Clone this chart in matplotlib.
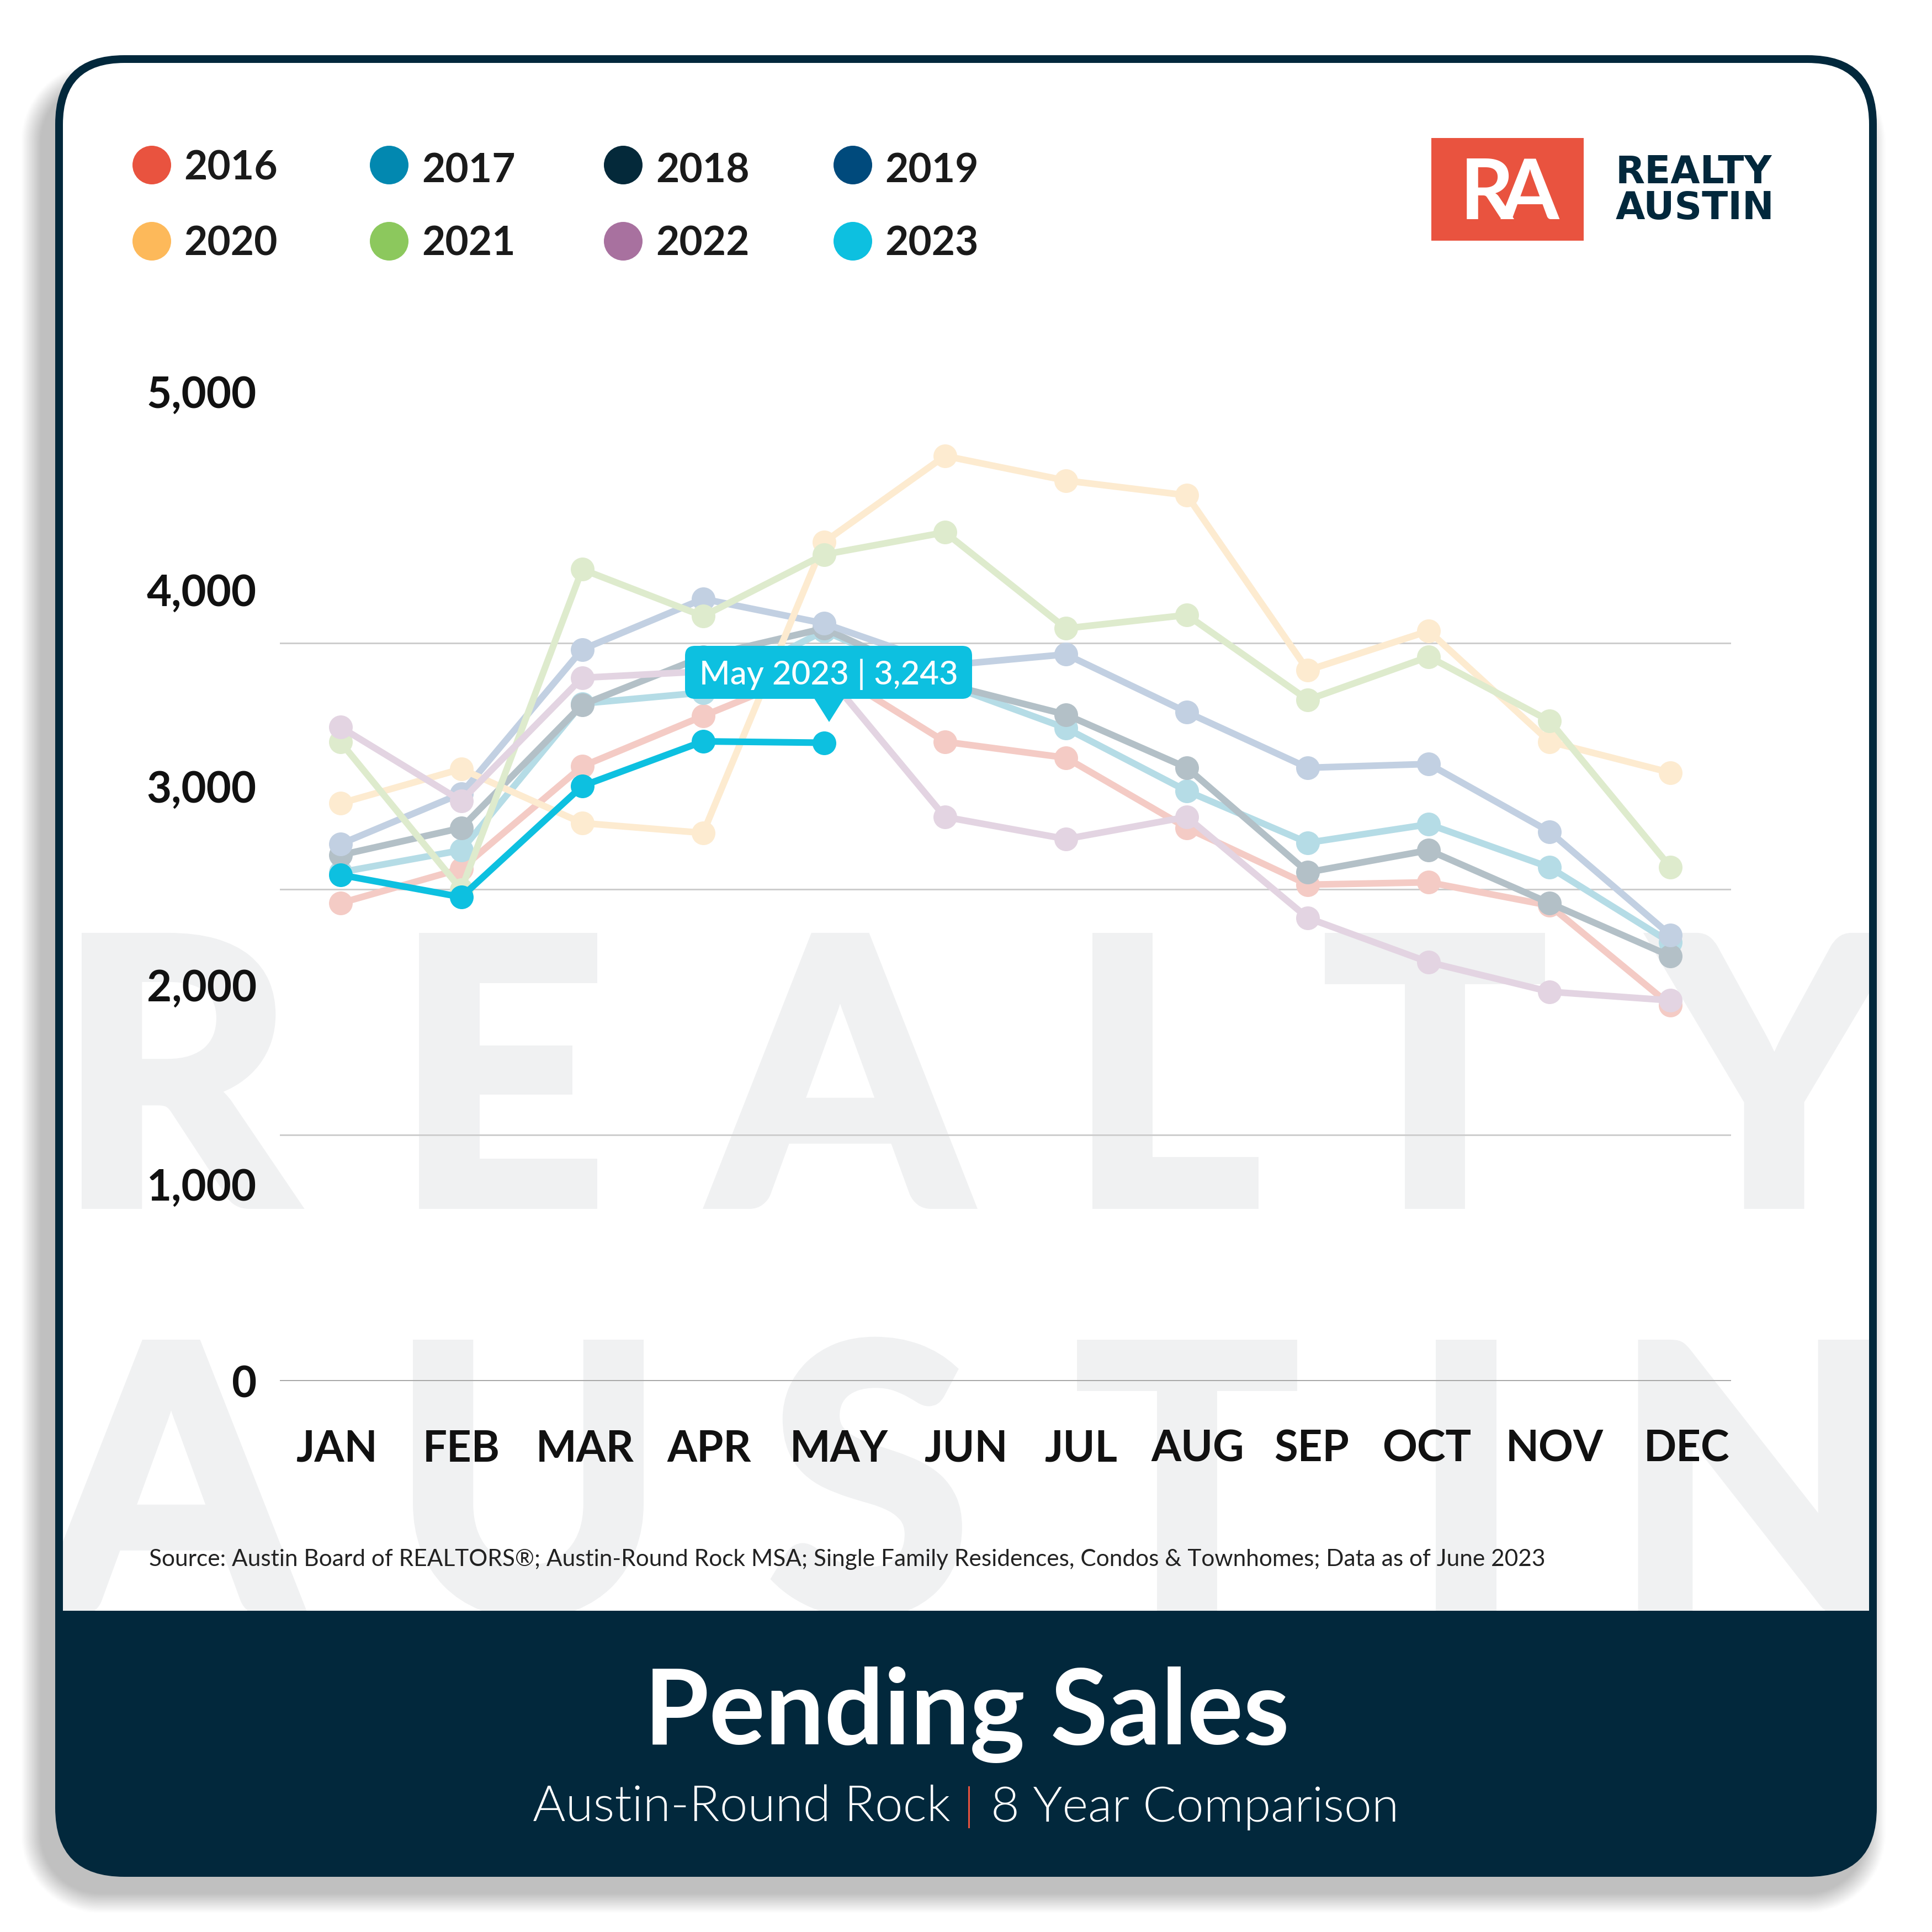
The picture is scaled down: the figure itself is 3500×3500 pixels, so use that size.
import numpy as np
import matplotlib
matplotlib.use("Agg")
import matplotlib.pyplot as plt
import matplotlib.patheffects as pe
from matplotlib.patches import FancyBboxPatch, Rectangle, Polygon, Circle
from matplotlib.transforms import Bbox, TransformedBbox, ScaledTranslation

MONTHS = ["JAN","FEB","MAR","APR","MAY","JUN","JUL","AUG","SEP","OCT","NOV","DEC"]
YEARS = ["2016","2017","2018","2019","2020","2021","2022","2023"]
V2016 = [2428,2603,3123,3379,3630,3248,3167,2810,2522,2534,2416,1909]
V2017 = [2585,2697,3442,3498,3811,3542,3317,2998,2735,2829,2610,2228]
V2018 = [2672,2810,3436,3680,3824,3542,3386,3116,2585,2697,2428,2159]
V2019 = [2728,2985,3717,3974,3849,3636,3692,3398,3116,3135,2791,2265]
V2020 = [2935,3110,2835,2785,4262,4700,4575,4500,3611,3811,3248,3091]
V2021 = [3248,2497,4124,3886,4199,4312,3824,3892,3461,3680,3354,2610]
V2022 = [3323,2948,3573,3605,3605,2866,2754,2866,2353,2128,1978,1934]
V2023 = [2572,2459,3023,3250,3243]
SERIES = [V2016,V2017,V2018,V2019,V2020,V2021,V2022,V2023]
LEGEND_COLORS = ["#E9533F","#0288B0","#04293A","#004A7C","#FDB95A","#8CC85D","#A8719F","#0DC0E0"]
LINE_COLORS = ["#F4CBC5","#B5DCE6","#B3C0C7","#C2D0E2","#FDEBD0","#DEEBCD","#E3D4E2","#0DC0E0"]
Y_TICKS = [0,1000,2000,3000,4000,5000]
Y_LABELS = ["0","1,000","2,000","3,000","4,000","5,000"]
GRID_STEPS = [1250,2500,3750,5000]
TOOLTIP = "May 2023 | 3,243"
SOURCE = "Source: Austin Board of REALTORS®; Austin-Round Rock MSA; Single Family Residences, Condos & Townhomes; Data as of June 2023"

NAVY = "#02283C"
RED = "#E9533F"
WM = "#F0F1F2"
FONT = "Lato"
PX = 72/350   # points per pixel at this dpi

fig = plt.figure(figsize=(10,10), dpi=350, facecolor="white")
bg = fig.add_axes([0,0,1,1], zorder=0)

# soft drop shadow
n = 875
yy, xx = np.mgrid[0:n,0:n]*4.0
x0,x1,y0,y1,r = 54,3396,130,3446,125
qx = np.abs(xx-(x0+x1)/2)-((x1-x0)/2-r)
qy = np.abs(yy-(y0+y1)/2)-((y1-y0)/2-r)
sdf = np.hypot(np.maximum(qx,0),np.maximum(qy,0))+np.minimum(np.maximum(qx,qy),0)-r
alpha = np.clip((18-sdf)/36,0,1)*0.25
rgba = np.zeros((n,n,4)); rgba[...,3]=alpha
bg.imshow(rgba, extent=(0,3500,3500,0), aspect="auto", interpolation="bilinear", zorder=0)
bg.set_xlim(0,3500); bg.set_ylim(3500,0); bg.axis("off")

bg.add_patch(FancyBboxPatch((100,100),3300,3300,boxstyle="round,pad=0,rounding_size=125",fc=NAVY,ec="none",zorder=1))
bg.add_patch(FancyBboxPatch((114,114),3272,3000,boxstyle="round,pad=0,rounding_size=111",fc="white",ec="none",zorder=2))

# background wordmark (thickened to the reference's heavy weight)
clip = TransformedBbox(Bbox([[114,114],[3386,2918]]), bg.transData)
heavy = [pe.withStroke(linewidth=20*PX, foreground=WM, joinstyle="miter")]
for ch,cx in zip("REALTY",[318,907,1522,2108,2599,3214]):
    t = bg.text(cx,2180,ch,fontsize=664*PX,family=FONT,weight="bold",color=WM,ha="center",va="baseline",zorder=3,path_effects=heavy)
    t.set_clip_box(clip); t.set_clip_on(True)
for ch,cx in zip("AUSTIN",[310,957,1575,2150,2656,3180]):
    t = bg.text(cx,2917,ch,fontsize=664*PX,family=FONT,weight="bold",color=WM,ha="center",va="baseline",zorder=3,path_effects=heavy)
    t.set_clip_box(clip); t.set_clip_on(True)

bg.add_patch(Rectangle((100,2918),3300,250,fc=NAVY,ec="none",zorder=4))

# footer text
bg.text(1751,3160,"Pending Sales",fontsize=190*PX,family=FONT,weight="bold",color="white",ha="center",va="baseline",zorder=5)
bg.text(965,3300,"Austin-Round Rock",fontsize=91*PX,family=FONT,weight=300,color="white",ha="left",va="baseline",zorder=5)
bg.text(1755,3298,"|",fontsize=80*PX,family=FONT,weight=300,color=RED,ha="center",va="baseline",zorder=5)
bg.text(1795,3300,"8 Year Comparison",fontsize=89.5*PX,family=FONT,weight=300,color="white",ha="left",va="baseline",zorder=5)
bg.text(270,2825,SOURCE,fontsize=42.4*PX,family=FONT,color="#222222",ha="left",va="center",zorder=5)

# logo
bg.add_patch(Rectangle((2593,250),276,186,fc=RED,ec="none",zorder=5))
bg.text(2645,397,"R",fontsize=152*PX,family=FONT,weight="bold",color="white",ha="left",va="baseline",zorder=6)
bg.text(2824,397,"A",fontsize=152*PX,family=FONT,weight="bold",color="white",ha="right",va="baseline",zorder=6)
bg.text(2927,332,"REALTY",fontsize=69*PX,family="DejaVu Sans",weight="bold",color=NAVY,ha="left",va="baseline",zorder=6)
bg.text(2927,397,"AUSTIN",fontsize=69*PX,family="DejaVu Sans",weight="bold",color=NAVY,ha="left",va="baseline",zorder=6)

# legend
legend_cx = [275,705,1129,1545]
legend_tx = [333,764,1188,1603]
legend_cy = [299,437]
legend_ty = [310,442]
for i,(y,c) in enumerate(zip(YEARS,LEGEND_COLORS)):
    col,row = i%4,i//4
    bg.add_patch(Circle((legend_cx[col],legend_cy[row]),35,fc=c,ec="none",zorder=5))
    ty = legend_ty[row] if not (row==0 and col==0) else 305
    bg.text(legend_tx[col],ty,y,fontsize=73*PX,family=FONT,weight="bold",color="#1a1a1a",ha="left",va="center",zorder=5)

# chart
ax = fig.add_axes([507/3500,1-2502/3500,(3136-507)/3500,(2502-719)/3500],zorder=1)
ax.patch.set_alpha(0)
for s in ax.spines.values(): s.set_visible(False)
xs = np.arange(12)
ax.set_xlim(-0.5,11.5); ax.set_ylim(0,5000)
for vals,c,z in zip(SERIES,LINE_COLORS,range(3,11)):
    ax.plot(xs[:len(vals)],vals,color=c,lw=12*PX,marker="o",ms=43*PX,mec="none",solid_joinstyle="round",clip_on=False,zorder=z)
ax.set_yticks(Y_TICKS); ax.set_yticklabels(Y_LABELS)
ax.set_yticks(GRID_STEPS,minor=True)
ax.grid(False)
ax.grid(which="minor",axis="y",color="#CDCDCD",lw=3*PX,zorder=1)
ax.axhline(0,color="#A9A9A9",lw=4*PX,zorder=1)
ax.tick_params(axis="y",which="both",length=0)
ax.tick_params(axis="y",which="major",pad=42*PX,labelsize=78*PX,labelcolor="#111111")
ylabel_shift_px = [0,0,4,7,7,9]
for l,dy in zip(ax.get_yticklabels(),ylabel_shift_px):
    l.set_family(FONT); l.set_weight("bold")
    l.set_transform(l.get_transform()+ScaledTranslation(0,dy/350,fig.dpi_scale_trans))
ax.set_xticks(xs); ax.set_xticklabels(MONTHS)
ax.tick_params(axis="x",length=0,pad=88*PX,labelsize=78*PX,labelcolor="#111111")
label_shift_px = [-7,0,5,11,27,38,27,20,7,-4,9,29]
for l,dx in zip(ax.get_xticklabels(),label_shift_px):
    l.set_family(FONT); l.set_weight("bold")
    l.set_transform(l.get_transform()+ScaledTranslation(dx/350,0,fig.dpi_scale_trans))

# tooltip overlay
top = fig.add_axes([0,0,1,1],zorder=2)
top.set_xlim(0,3500); top.set_ylim(3500,0); top.axis("off"); top.patch.set_alpha(0)
CY = "#0DC0E0"
top.add_patch(FancyBboxPatch((1241,1170),520,96,boxstyle="round,pad=0,rounding_size=18",fc=CY,ec="none"))
top.add_patch(Polygon([[1473,1262],[1531,1262],[1502,1308]],closed=True,fc=CY,ec="none"))
top.text(1501,1222,TOOLTIP,fontsize=60*PX,family=FONT,weight=500,color="white",ha="center",va="center")

fig.savefig("out.png",dpi=350)
